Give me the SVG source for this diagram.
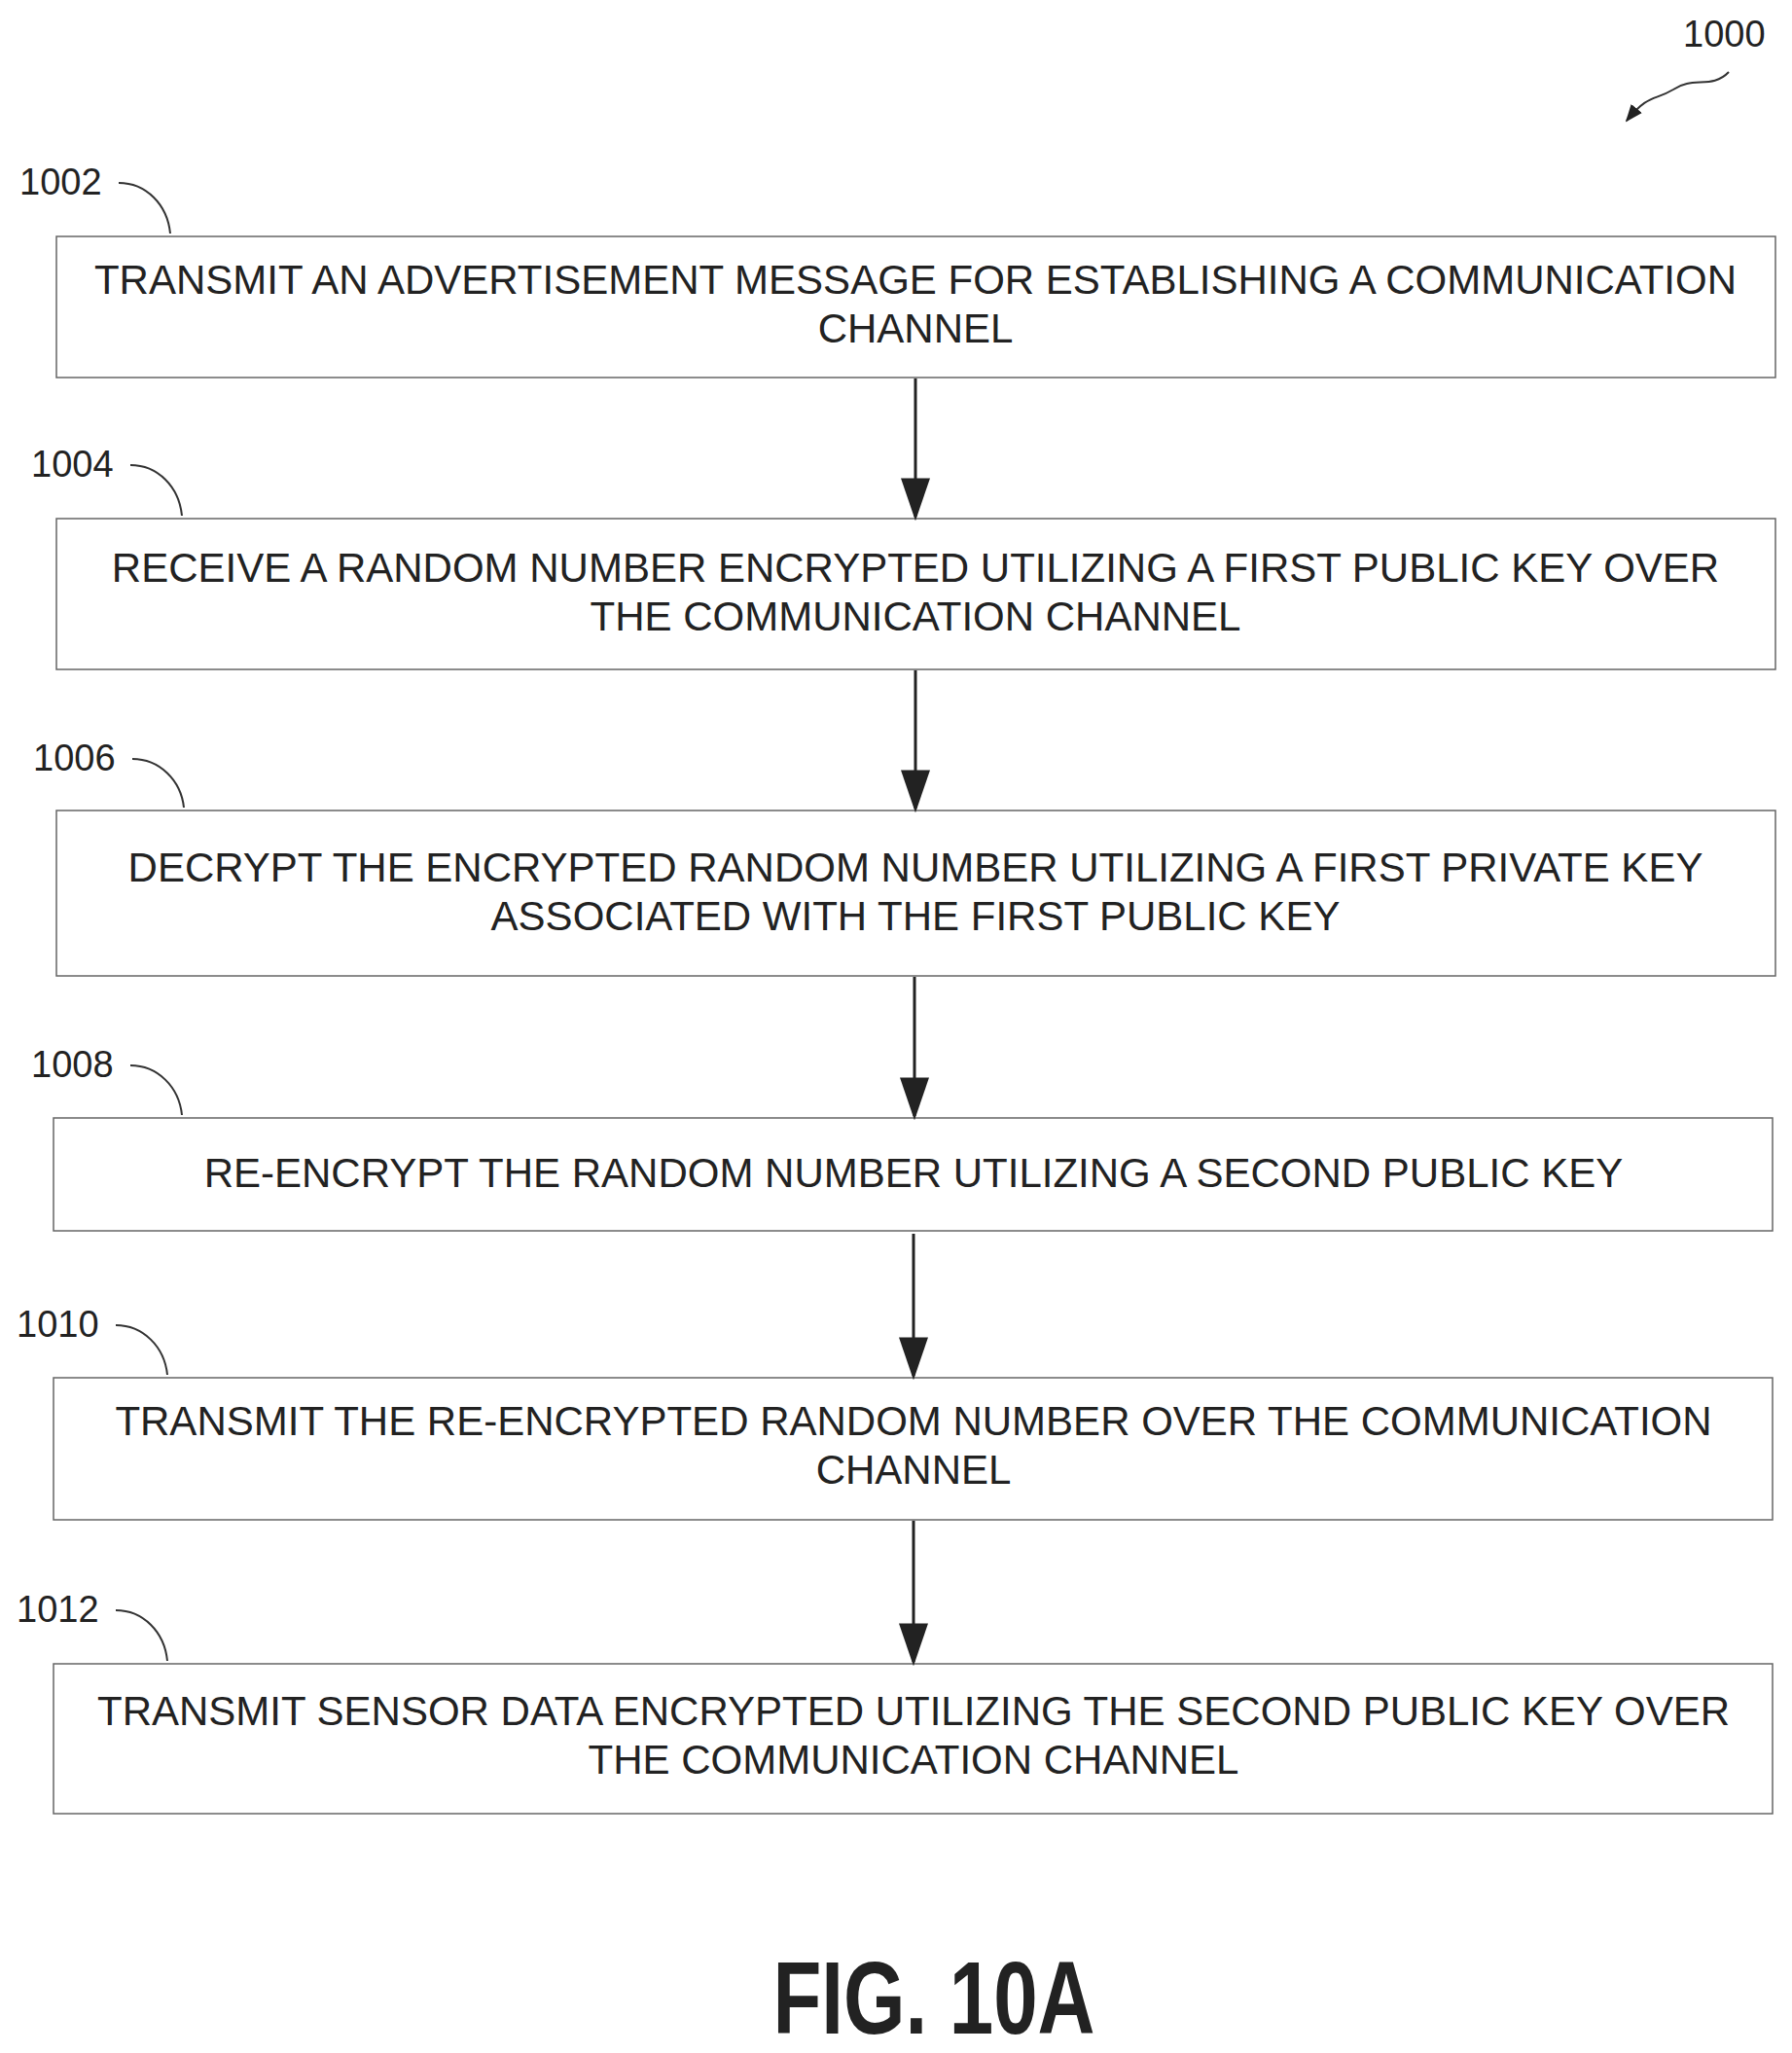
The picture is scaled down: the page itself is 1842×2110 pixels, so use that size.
<svg xmlns="http://www.w3.org/2000/svg" width="1842" height="2110" viewBox="0 0 1842 2110">
<style>
.b{fill:#fff;stroke:#666;stroke-width:1.5}
.t{font-family:"Liberation Sans",Arial,sans-serif;font-size:42px;fill:#222;text-anchor:middle}
.l{font-family:"Liberation Sans",Arial,sans-serif;font-size:38px;fill:#222}
.c{fill:none;stroke:#333;stroke-width:2}
.a{stroke:#222;stroke-width:3}
</style>
<defs>
<marker id="ah2" viewBox="0 0 10 10" refX="9" refY="5" markerWidth="44" markerHeight="30" orient="auto" markerUnits="userSpaceOnUse" preserveAspectRatio="none"><path d="M0,0 L10,5 L0,10 Z" fill="#222"/></marker>
<marker id="ah3" viewBox="0 0 10 10" refX="9" refY="5" markerWidth="18" markerHeight="18" orient="auto" markerUnits="userSpaceOnUse"><path d="M0,1 L10,5 L0,9 Z" fill="#222"/></marker></defs>
<rect width="1842" height="2110" fill="#fff"/>
<g id="ref1000"><text class="l" x="1730" y="48">1000</text><path class="c" d="M1777,74 C1760,92 1740,78 1720,92 C1700,104 1695,96 1672,124" marker-end="url(#ah3)"/></g>
<g id="n1002"><text class="l" x="20" y="200">1002</text><path class="c" d="M122,188 C150,188 172,210 175,240"/><rect class="b" x="58" y="243" width="1767" height="145"/><text class="t" x="941" y="302">TRANSMIT AN ADVERTISEMENT MESSAGE FOR ESTABLISHING A COMMUNICATION</text><text class="t" x="941" y="352">CHANNEL</text></g>
<g id="n1004"><text class="l" x="32" y="490">1004</text><path class="c" d="M134,478 C162,478 184,500 187,530"/><rect class="b" x="58" y="533" width="1767" height="155"/><text class="t" x="941" y="598">RECEIVE A RANDOM NUMBER ENCRYPTED UTILIZING A FIRST PUBLIC KEY OVER</text><text class="t" x="941" y="648">THE COMMUNICATION CHANNEL</text></g>
<g id="n1006"><text class="l" x="34" y="792">1006</text><path class="c" d="M136,780 C164,780 186,802 189,830"/><rect class="b" x="58" y="833" width="1767" height="170"/><text class="t" x="941" y="906">DECRYPT THE ENCRYPTED RANDOM NUMBER UTILIZING A FIRST PRIVATE KEY</text><text class="t" x="941" y="956">ASSOCIATED WITH THE FIRST PUBLIC KEY</text></g>
<g id="n1008"><text class="l" x="32" y="1107">1008</text><path class="c" d="M134,1095 C162,1095 184,1117 187,1146"/><rect class="b" x="55" y="1149" width="1767" height="116"/><text class="t" x="939" y="1220">RE-ENCRYPT THE RANDOM NUMBER UTILIZING A SECOND PUBLIC KEY</text></g>
<g id="n1010"><text class="l" x="17" y="1374">1010</text><path class="c" d="M119,1362 C147,1362 169,1384 172,1413"/><rect class="b" x="55" y="1416" width="1767" height="146"/><text class="t" x="939" y="1475">TRANSMIT THE RE-ENCRYPTED RANDOM NUMBER OVER THE COMMUNICATION</text><text class="t" x="939" y="1525">CHANNEL</text></g>
<g id="n1012"><text class="l" x="17" y="1667">1012</text><path class="c" d="M119,1655 C147,1655 169,1677 172,1707"/><rect class="b" x="55" y="1710" width="1767" height="154"/><text class="t" x="939" y="1773">TRANSMIT SENSOR DATA ENCRYPTED UTILIZING THE SECOND PUBLIC KEY OVER</text><text class="t" x="939" y="1823">THE COMMUNICATION CHANNEL</text></g>
<g id="connectors">
<line class="a" x1="941" y1="389" x2="941" y2="531" marker-end="url(#ah2)"/>
<line class="a" x1="941" y1="689" x2="941" y2="831" marker-end="url(#ah2)"/>
<line class="a" x1="940" y1="1004" x2="940" y2="1147" marker-end="url(#ah2)"/>
<line class="a" x1="939" y1="1268" x2="939" y2="1414" marker-end="url(#ah2)"/>
<line class="a" x1="939" y1="1563" x2="939" y2="1708" marker-end="url(#ah2)"/>
</g>
<text transform="translate(960,2090) scale(0.77,1)" text-anchor="middle" font-family="'Liberation Sans',Arial,sans-serif" font-weight="bold" font-size="106" fill="#222">FIG. 10A</text>
</svg>
